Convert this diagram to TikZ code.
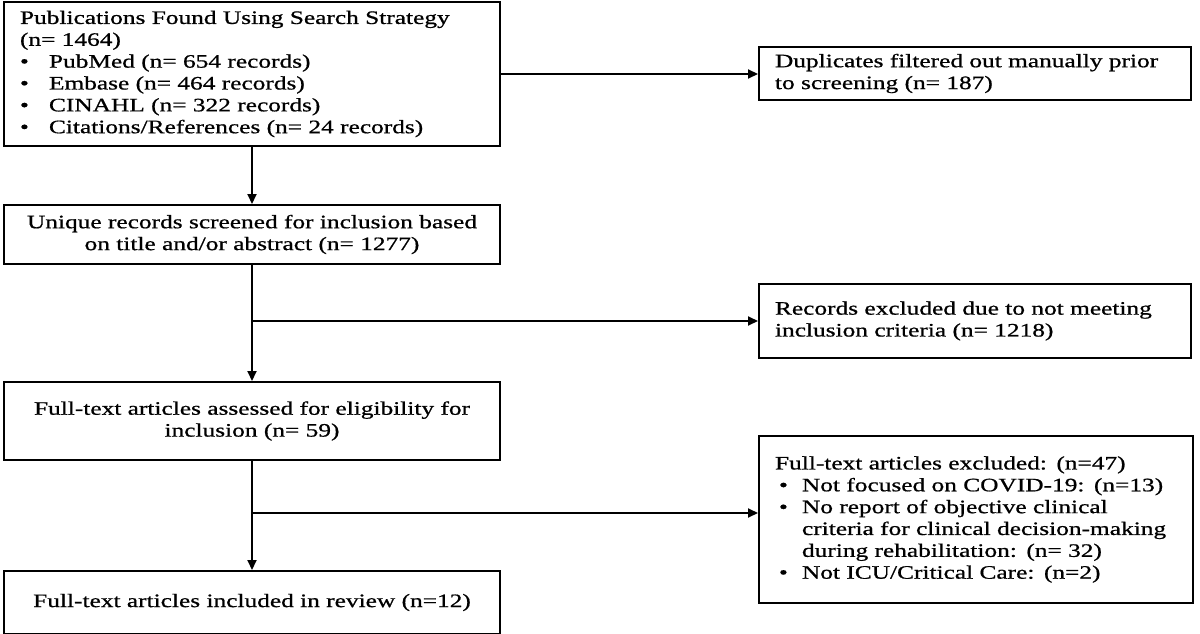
\documentclass[tikz,border=0pt]{standalone}
\usepackage{fontspec}
\setmainfont{Liberation Serif}[FakeStretch=1.335,FakeBold=0.8]
\usetikzlibrary{arrows.meta}
\newcommand{\bul}{\makebox[29pt][l]{\textbullet}}
\newcommand{\bulb}{\hspace*{4pt}\makebox[23pt][l]{\textbullet}}
\newcommand{\ind}{\hspace*{27pt}}
\begin{document}
\begin{tikzpicture}[x=1pt,y=1pt,
  box/.style={draw=black, line width=2pt, anchor=north west, inner ysep=0pt,
    font=\fontsize{19}{21.85}\selectfont, text=black},
  lbox/.style={box, inner xsep=16pt, align=left},
  cbox/.style={box, inner xsep=4pt, align=center},
  arr/.style={draw=black, line width=2pt, -{Triangle[length=10pt,width=9pt]}}]
\useasboundingbox (0,0) rectangle (1200,-634);

\node[lbox, minimum width=496pt, minimum height=144pt, text width=464pt] (b1) at (3,-1)
 {Publications Found Using Search Strategy\\
  (n= 1464)\\
  \bul PubMed (n= 654 records)\\
  \bul Embase (n= 464 records)\\
  \bul CINAHL (n= 322 records)\\
  \bul Citations/References (n= 24 records)};

\node[cbox, minimum width=496pt, minimum height=59pt, text width=488pt] (b2) at (3,-204)
 {Unique records screened for inclusion based\\ on title and/or abstract (n= 1277)};

\node[cbox, minimum width=496pt, minimum height=78pt, text width=488pt] (b3) at (3,-381)
 {Full-text articles assessed for eligibility for\\ inclusion (n= 59)};

\node[cbox, minimum width=496pt, minimum height=63pt, text width=488pt] (b4) at (3,-570)
 {Full-text articles included in review (n=12)};

\node[lbox, minimum width=432pt, minimum height=53pt, text width=400pt] (dup) at (758,-46)
 {Duplicates filtered out manually prior\\ to screening (n= 187)};

\node[lbox, minimum width=432pt, minimum height=74pt, text width=400pt] (e1) at (758,-283)
 {Records excluded due to not meeting\\ inclusion criteria (n= 1218)};

\node[lbox, minimum width=434pt, minimum height=167pt, text width=402pt] (e2) at (758,-435)
 {Full-text articles excluded: (n=47)\\
  \bulb Not focused on COVID-19: (n=13)\\
  \bulb No report of objective clinical\\
  \ind criteria for clinical decision-making\\
  \ind during rehabilitation: (n= 32)\\
  \bulb Not ICU/Critical Care: (n=2)};

\coordinate (j1) at (b2.south |- e1.west);
\coordinate (j2) at (251,-513);

\draw[arr] (b1.south) -- (b2.north);
\draw[arr] (b1.east) -- (b1.east -| dup.west);
\draw[arr] (b2.south) -- (b3.north);
\draw[arr] (j1) -- (e1.west);
\draw[arr] (b3.south) -- (b4.north);
\draw[arr] (j2) -- (j2 -| e2.west);
\end{tikzpicture}
\end{document}
